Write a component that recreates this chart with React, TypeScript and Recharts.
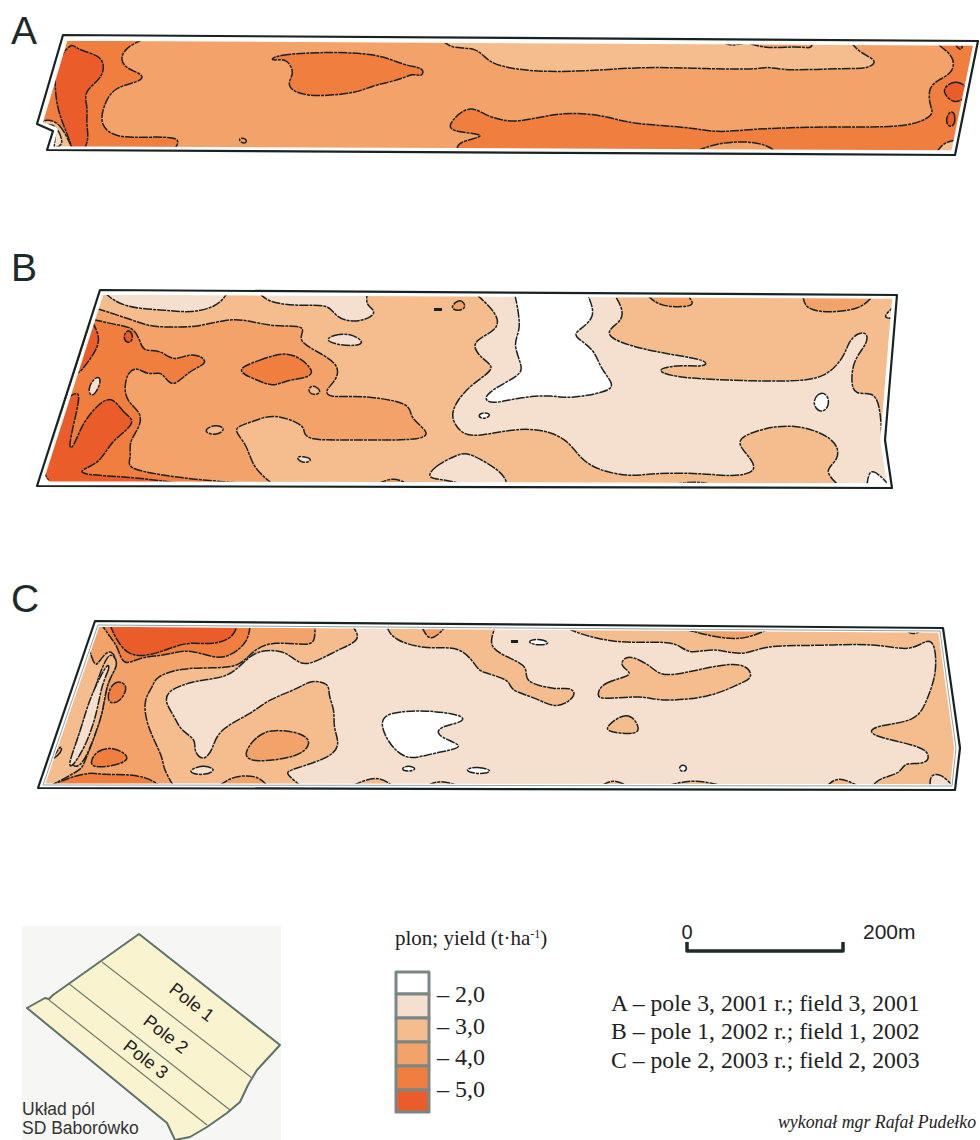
import React from 'react';
import { ScatterChart, Scatter, XAxis, YAxis } from 'recharts';

type Pt = [number, number];

// yield classes, lowest to highest
const Y1 = '#ffffff';
const Y2 = '#f5dfcf';
const Y3 = '#f5bd8e';
const Y4 = '#f3a26a';
const Y5 = '#ef7e3f';
const Y6 = '#ea5c2a';

// ---- map A (field 3, 2001) ----
const aOutline: Pt[] = [[63, 35], [978, 41], [955, 155], [47, 150], [53, 131], [37, 124]];
const aInner: Pt[] = [[66, 39], [975, 44], [953, 152], [51, 148], [56, 129], [41, 123]];
const aLeft5: Pt[] = [[143, 41], [125, 48], [120, 60], [127, 69], [145, 75], [140, 82], [113, 87], [103, 107], [100, 125], [115, 138], [150, 137], [182, 137], [175, 147], [51, 148], [56, 129], [41, 123], [66, 39]];
const aLeft6: Pt[] = [[72, 42], [77, 50], [100, 55], [105, 67], [100, 80], [83, 92], [88, 107], [86, 123], [89, 137], [85, 148], [72, 148], [67, 133], [56, 107], [57, 77], [63, 57]];
const aCorner3: Pt[] = [[45, 119], [60, 122], [72, 147], [52, 148], [56, 129], [42, 123]];
const aCorner2: Pt[] = [[47, 123], [56, 124], [65, 145], [54, 147], [58, 129]];
const aMid5: Pt[] = [[270, 60], [277, 55], [317, 52], [377, 53], [403, 65], [418, 67], [424, 70], [422, 77], [413, 73], [400, 80], [370, 86], [358, 93], [313, 97], [293, 92], [287, 83], [295, 73], [287, 59], [277, 60]];
const aSpeck: Pt[] = [[238, 138], [246, 138], [247, 143], [241, 143]];
const aLow5: Pt[] = [[467, 105], [483, 113], [490, 117], [513, 123], [540, 117], [570, 112], [607, 116], [630, 124], [690, 127], [717, 133], [750, 129], [810, 127], [857, 127], [910, 127], [935, 115], [930, 107], [928, 88], [938, 80], [953, 73], [955, 57], [937, 45], [975, 44], [953, 152], [457, 150], [458, 142], [482, 137], [480, 134], [457, 132], [445, 127]];
const aTop3: Pt[] = [[443, 42], [453, 49], [477, 47], [488, 62], [507, 68], [540, 72], [590, 71], [640, 67], [690, 68], [757, 70], [767, 66], [783, 71], [850, 68], [867, 69], [879, 61], [860, 53], [852, 45]];
const aTop4: Pt[] = [[723, 43], [730, 46], [747, 43], [767, 49], [797, 46], [812, 49], [812, 43]];
const aRound6: Pt[] = [[943, 88], [955, 80], [968, 86], [965, 100], [953, 103], [945, 95]];
const aOval6: Pt[] = [[952, 110], [956, 117], [953, 128], [946, 125], [947, 115]];
const aTip6: Pt[] = [[955, 45], [963, 45], [961, 52]];
const aArc4: Pt[] = [[697, 152], [717, 143], [747, 141], [767, 145], [775, 152]];
const aFoot4: Pt[] = [[937, 152], [943, 143], [955, 140], [953, 152]];

// ---- map B (field 1, 2002) ----
const bOutline: Pt[] = [[100, 290], [897, 295], [885, 440], [892, 488], [37, 486]];
const bInner: Pt[] = [[102, 293], [894, 297], [882, 440], [889, 485], [41, 483]];
const bTopL2: Pt[] = [[105, 294], [123, 308], [167, 310], [190, 313], [217, 307], [227, 294]];
const bTopM2: Pt[] = [[260, 295], [270, 303], [300, 306], [330, 304], [335, 317], [353, 323], [373, 317], [375, 310], [366, 305], [367, 296]];
const bOval2: Pt[] = [[325, 340], [333, 335], [350, 333], [365, 342], [357, 346], [337, 345]];
const bSpot4: Pt[] = [[450, 308], [458, 299], [465, 303], [465, 309], [457, 311]];
const bDark: Pt[] = [[434, 308], [442, 308], [442, 311], [434, 311]];
const bMain4: Pt[] = [[95, 308], [133, 320], [150, 327], [177, 327], [197, 327], [227, 319], [247, 320], [273, 327], [308, 325], [298, 338], [307, 347], [340, 363], [337, 380], [325, 390], [328, 398], [360, 395], [413, 403], [408, 417], [430, 432], [423, 440], [377, 440], [340, 440], [310, 440], [303, 433], [305, 425], [273, 413], [253, 422], [230, 428], [247, 443], [252, 467], [272, 483], [41, 483]];
const bLeft5: Pt[] = [[95, 320], [117, 325], [133, 327], [140, 340], [143, 352], [160, 349], [173, 362], [190, 353], [203, 357], [207, 364], [190, 370], [173, 388], [165, 377], [160, 372], [147, 375], [137, 367], [128, 372], [124, 387], [127, 402], [142, 413], [140, 427], [128, 443], [132, 457], [125, 468], [160, 475], [200, 480], [247, 483], [41, 483], [88, 327]];
const bLow6: Pt[] = [[110, 392], [123, 413], [135, 420], [127, 430], [110, 443], [100, 463], [80, 470], [82, 475], [133, 477], [180, 483], [50, 483], [44, 473], [68, 397], [80, 390], [78, 407], [68, 447], [72, 450], [80, 430], [87, 417]];
const bCornerWhite: Pt[] = [[41, 483], [44, 473], [46, 478], [51, 483]];
const bUp6: Pt[] = [[92, 322], [100, 337], [97, 350], [80, 373], [77, 373]];
const bSpot6: Pt[] = [[123, 336], [128, 329], [133, 334], [132, 342], [126, 343]];
const bSliver2: Pt[] = [[88, 387], [97, 375], [102, 380], [95, 395], [90, 396]];
const bLens3: Pt[] = [[307, 390], [313, 384], [323, 392], [313, 396]];
const bCentre5: Pt[] = [[233, 370], [260, 360], [283, 352], [300, 357], [315, 372], [307, 378], [287, 380], [273, 387], [257, 380]];
const bDrop3: Pt[] = [[202, 432], [213, 424], [227, 428], [217, 436]];
const bFleck2: Pt[] = [[295, 457], [303, 456], [314, 460], [303, 464]];
const bFoot4: Pt[] = [[378, 484], [393, 477], [408, 484]];
const bRight2: Pt[] = [[477, 296], [497, 313], [500, 330], [468, 342], [483, 360], [497, 368], [473, 383], [457, 400], [450, 417], [460, 432], [473, 438], [520, 427], [553, 432], [570, 443], [580, 458], [597, 470], [630, 477], [653, 473], [700, 473], [733, 477], [758, 472], [750, 457], [735, 442], [750, 432], [792, 422], [837, 438], [840, 460], [823, 470], [838, 485], [889, 485], [882, 440], [880, 403], [872, 392], [855, 395], [851, 383], [853, 360], [868, 343], [867, 332], [857, 333], [848, 343], [845, 355], [827, 378], [790, 382], [723, 380], [683, 378], [660, 373], [660, 368], [680, 365], [707, 367], [707, 360], [673, 355], [633, 347], [607, 337], [610, 328], [623, 320], [622, 307], [615, 296]];
const bCentre1: Pt[] = [[515, 297], [522, 330], [512, 343], [523, 367], [520, 375], [497, 387], [483, 397], [490, 405], [520, 397], [553, 395], [568, 399], [607, 392], [615, 385], [600, 368], [595, 350], [575, 337], [575, 332], [597, 318], [588, 297]];
const bSmall1: Pt[] = [[477, 415], [485, 412], [492, 415], [483, 420]];
const bOval1: Pt[] = [[812, 405], [817, 393], [827, 393], [830, 405], [822, 414]];
const bEdge2: Pt[] = [[882, 318], [892, 307], [890, 318]];
const bCorner1: Pt[] = [[867, 485], [870, 465], [889, 485]];
const bTop4A: Pt[] = [[648, 296], [660, 307], [692, 307], [693, 302], [688, 296]];
const bTop4B: Pt[] = [[803, 297], [805, 308], [823, 313], [860, 310], [872, 297]];
const bLow2: Pt[] = [[427, 478], [433, 467], [460, 453], [470, 453], [503, 472], [507, 484], [463, 484], [440, 479]];
const bFoot4B: Pt[] = [[673, 484], [695, 481], [712, 484]];

// ---- map C (field 2, 2003) ----
const cOutline: Pt[] = [[95, 621], [943, 628], [960, 748], [955, 790], [38, 788]];
const cInner: Pt[] = [[98, 625], [940, 631], [956, 748], [952, 786], [43, 785]];
const cLeft3: Pt[] = [[98, 625], [353, 627], [362, 640], [337, 650], [307, 667], [295, 660], [283, 650], [257, 650], [243, 663], [227, 678], [197, 680], [167, 690], [165, 703], [175, 717], [180, 730], [197, 740], [193, 750], [203, 762], [213, 750], [217, 730], [253, 713], [267, 700], [300, 688], [310, 680], [330, 683], [328, 695], [335, 710], [333, 727], [340, 743], [333, 757], [290, 770], [285, 773], [300, 785], [43, 785]];
const cTopArm3: Pt[] = [[387, 627], [393, 640], [427, 650], [460, 645], [477, 667], [480, 672], [512, 680], [508, 690], [537, 698], [557, 710], [578, 695], [570, 687], [557, 690], [522, 682], [530, 667], [507, 657], [488, 647], [495, 627]];
const cEast3: Pt[] = [[568, 628], [577, 633], [613, 643], [660, 642], [677, 643], [690, 655], [713, 647], [743, 657], [763, 645], [813, 646], [877, 643], [910, 652], [927, 639], [935, 643], [937, 673], [927, 700], [917, 722], [875, 725], [865, 735], [917, 745], [930, 753], [927, 765], [903, 762], [902, 773], [880, 778], [872, 786], [952, 786], [956, 748], [940, 631]];
const cEastNotch2: Pt[] = [[930, 786], [930, 775], [940, 773], [952, 785]];
const cTop4: Pt[] = [[685, 630], [737, 643], [767, 631]];
const cTip4: Pt[] = [[907, 631], [912, 635], [922, 632]];
const cMidArm3: Pt[] = [[597, 695], [602, 682], [637, 675], [620, 667], [623, 658], [633, 656], [652, 667], [657, 673], [673, 677], [743, 658], [755, 678], [740, 683], [713, 697], [660, 702], [643, 695], [600, 700]];
const cIsle3: Pt[] = [[605, 727], [628, 710], [640, 727], [637, 735], [608, 732]];
const cFoot3A: Pt[] = [[353, 785], [377, 775], [392, 785]];
const cFoot3B: Pt[] = [[428, 785], [440, 780], [458, 785]];
const cFoot3C: Pt[] = [[602, 786], [613, 779], [627, 786]];
const cFoot3D: Pt[] = [[668, 786], [693, 779], [723, 786]];
const cFoot3E: Pt[] = [[827, 786], [838, 776], [858, 786]];
const cLens2: Pt[] = [[185, 772], [203, 764], [218, 770], [203, 776]];
const cWest4: Pt[] = [[98, 625], [315, 627], [315, 640], [310, 646], [273, 641], [253, 650], [240, 667], [213, 668], [180, 668], [155, 677], [153, 687], [143, 700], [147, 727], [163, 757], [163, 768], [173, 785], [52, 785], [80, 770], [83, 767], [98, 727], [103, 710], [107, 683], [115, 670], [117, 660], [110, 648], [100, 660], [95, 668], [90, 650]];
const cHalo3: Pt[] = [[110, 650], [118, 662], [115, 670], [107, 683], [103, 710], [98, 727], [83, 767], [70, 768], [75, 745], [88, 710], [100, 672]];
const cSliver2: Pt[] = [[108, 663], [110, 668], [102, 683], [97, 713], [87, 743], [73, 767], [67, 767], [80, 733], [88, 703], [100, 677]];
const cTop5: Pt[] = [[250, 627], [248, 642], [230, 657], [213, 658], [192, 650], [177, 652], [160, 656], [140, 657], [123, 667], [118, 647], [110, 637], [102, 627]];
const cTop6: Pt[] = [[110, 627], [115, 637], [128, 657], [153, 655], [173, 647], [190, 642], [213, 645], [233, 638], [237, 627]];
const cBlob5: Pt[] = [[90, 762], [97, 750], [113, 747], [128, 755], [127, 762], [107, 767], [93, 767]];
const cUpper5: Pt[] = [[107, 697], [112, 683], [122, 681], [128, 688], [120, 702], [110, 704]];
const cFloor5: Pt[] = [[48, 785], [52, 783], [68, 778], [90, 772], [103, 775], [123, 774], [147, 777], [159, 785]];
const cCentre4: Pt[] = [[242, 755], [257, 735], [273, 729], [303, 733], [312, 743], [300, 757], [253, 763]];
const cFoot4: Pt[] = [[220, 785], [233, 776], [257, 775], [267, 785]];
const cEdge4: Pt[] = [[62, 743], [62, 753], [53, 760]];
const cNotch4: Pt[] = [[422, 627], [430, 643], [445, 628]];
const cWhite1: Pt[] = [[380, 723], [387, 712], [427, 710], [463, 715], [465, 722], [437, 727], [437, 737], [470, 747], [433, 753], [410, 760], [397, 752], [387, 740]];
const cWhite2: Pt[] = [[400, 769], [408, 765], [418, 769], [408, 772]];
const cWhite3: Pt[] = [[462, 770], [477, 766], [495, 771], [480, 775]];
const cWhite4: Pt[] = [[525, 642], [538, 638], [552, 643], [540, 646]];
const cWhite5: Pt[] = [[678, 768], [683, 764], [688, 768], [683, 773]];
const cDark: Pt[] = [[511, 640], [518, 640], [518, 643], [511, 643]];

// ---- inset: layout of the fields ----
const insetBack: Pt[] = [[22, 926], [281, 926], [281, 1140], [22, 1140]];
const insetFarm: Pt[] = [[139, 934], [280, 1045], [257, 1070], [248, 1085], [240, 1102], [227, 1113], [207, 1127], [190, 1137], [175, 1140], [167, 1123], [27, 1008], [45, 998], [49, 999], [53, 995]];
const insetLine1: Pt[] = [[102, 962], [252, 1078]];
const insetLine2: Pt[] = [[68, 983], [230, 1110]];
const insetLine3: Pt[] = [[49, 1000], [207, 1125]];

// ---- legend ----
const legendColours = [Y1, Y2, Y3, Y4, Y5, Y6];
const legendCells: Pt[][] = [
  [[396, 972], [429, 972], [429, 994], [396, 994]],
  [[396, 994], [429, 994], [429, 1018], [396, 1018]],
  [[396, 1018], [429, 1018], [429, 1042], [396, 1042]],
  [[396, 1042], [429, 1042], [429, 1066], [396, 1066]],
  [[396, 1066], [429, 1066], [429, 1090], [396, 1090]],
  [[396, 1090], [429, 1090], [429, 1112], [396, 1112]],
];
const legendTicks = ['– 2,0', '– 3,0', '– 4,0', '– 5,0'];
const legendTickY = [1002, 1034, 1065, 1097];

const scaleBar: Pt[] = [[687, 942], [687, 951], [843, 951], [843, 942]];

const mapLetters = ['A', 'B', 'C'];
const mapLetterY = [44, 281, 612];
const notes = ['A – pole 3, 2001 r.; field 3, 2001', 'B – pole 1, 2002 r.; field 1, 2002', 'C – pole 2, 2003 r.; field 2, 2003'];
const noteY = [1011, 1039, 1068];

const INK = '#182222';

// vertices lying on the field border stay put (tripled, so the spline passes through them)
function pinToBorder(pts: Pt[], border: Pt[]): Pt[] {
  const out: Pt[] = [];
  pts.forEach(([x, y]) => {
    let best: Pt = [x, y];
    let bestD = 2.5;
    border.forEach(([ax, ay], i) => {
      const [bx, by] = border[(i + 1) % border.length];
      const t = Math.max(0, Math.min(1, ((x - ax) * (bx - ax) + (y - ay) * (by - ay)) / ((bx - ax) ** 2 + (by - ay) ** 2)));
      const px = ax + t * (bx - ax);
      const py = ay + t * (by - ay);
      const d = Math.hypot(x - px, y - py);
      if (d < bestD) { bestD = d; best = [px, py]; }
    });
    if (best[0] === x && best[1] === y && bestD === 2.5) out.push([x, y]);
    else out.push(best, best, best);
  });
  return out;
}

// one polygon = one scatter series whose joining line is filled
function poly(key: string, pts: Pt[], fill: string, opts: any = {}) {
  const { stroke = INK, width = 1.5, dash = '9 1 3 1', joint = 'linearClosed' } = opts;
  return (
    <Scatter
      key={key}
      data={pts.map(([x, y]) => ({ x, y }))}
      fill={fill}
      line={{ fill, stroke, strokeWidth: width, strokeDasharray: dash, strokeLinejoin: 'round' }}
      lineJointType={joint}
      shape={() => null}
      isAnimationActive={false}
    />
  );
}
const SOLID = 'none';
const edgeOf = (border: Pt[]) => (key: string, pts: Pt[], fill: string) =>
  poly(key, pinToBorder(pts, border), fill, { joint: 'basisClosed' });
const edgeA = edgeOf(aInner);
const edgeB = edgeOf(bInner);
const edgeC = edgeOf(cInner);
const blob = (key: string, pts: Pt[], fill: string) => poly(key, pts, fill, { joint: 'basisClosed' });
const plain = (key: string, pts: Pt[], fill: string) => poly(key, pts, fill, { stroke: 'none', dash: SOLID });
const frame = (key: string, outer: Pt[], inner: Pt[], seam = '#ffffff') => [
  poly(key + '-w', inner, 'none', { stroke: '#ffffff', width: 3.5, dash: SOLID }),
  poly(key + '-s', inner, 'none', { stroke: seam, width: 1, dash: SOLID }),
  poly(key + '-o', outer, 'none', { stroke: INK, width: 2.2, dash: SOLID }),
];

const SERIF = '"Liberation Serif", serif';
const SANS = '"Liberation Sans", sans-serif';

export default function App() {
  return (
    <div style={{ position: 'absolute', left: 0, top: 0, width: 980, height: 1140, overflow: 'hidden', background: '#fff' }}>
      <ScatterChart width={980} height={1140} margin={{ top: 0, right: 0, bottom: 0, left: 0 }}>
        <XAxis type="number" dataKey="x" domain={[0, 980]} hide />
        <YAxis type="number" dataKey="y" domain={[0, 1140]} reversed hide />

        {plain('a-base', aInner, Y4)}
        {edgeA('a-top3', aTop3, Y3)}
        {edgeA('a-top4', aTop4, Y4)}
        {edgeA('a-left5', aLeft5, Y5)}
        {edgeA('a-left6', aLeft6, Y6)}
        {edgeA('a-c3', aCorner3, Y3)}
        {edgeA('a-c2', aCorner2, Y2)}
        {blob('a-mid5', aMid5, Y5)}
        {blob('a-speck', aSpeck, Y4)}
        {edgeA('a-low5', aLow5, Y5)}
        {edgeA('a-arc', aArc4, Y4)}
        {edgeA('a-foot', aFoot4, Y3)}
        {blob('a-round', aRound6, Y6)}
        {blob('a-oval', aOval6, Y6)}
        {edgeA('a-tip', aTip6, Y6)}
        {frame('a-frame', aOutline, aInner)}

        {plain('b-base', bInner, Y3)}
        {edgeB('b-topl', bTopL2, Y2)}
        {edgeB('b-topm', bTopM2, Y2)}
        {blob('b-oval2', bOval2, Y2)}
        {blob('b-spot4', bSpot4, Y4)}
        {plain('b-dark', bDark, INK)}
        {edgeB('b-main', bMain4, Y4)}
        {edgeB('b-left5', bLeft5, Y5)}
        {edgeB('b-low6', bLow6, Y6)}
        {plain('b-cw', bCornerWhite, Y1)}
        {edgeB('b-up6', bUp6, Y6)}
        {blob('b-spot6', bSpot6, Y6)}
        {blob('b-sliver', bSliver2, Y2)}
        {blob('b-lens', bLens3, Y3)}
        {blob('b-centre5', bCentre5, Y5)}
        {blob('b-drop', bDrop3, Y3)}
        {blob('b-fleck', bFleck2, Y2)}
        {edgeB('b-foot', bFoot4, Y4)}
        {edgeB('b-right', bRight2, Y2)}
        {edgeB('b-centre1', bCentre1, Y1)}
        {blob('b-small1', bSmall1, Y1)}
        {blob('b-oval1', bOval1, Y1)}
        {edgeB('b-edge2', bEdge2, Y2)}
        {edgeB('b-corner', bCorner1, Y1)}
        {edgeB('b-t4a', bTop4A, Y4)}
        {edgeB('b-t4b', bTop4B, Y4)}
        {edgeB('b-low2', bLow2, Y2)}
        {edgeB('b-foot2', bFoot4B, Y4)}
        {frame('b-frame', bOutline, bInner)}

        {plain('c-base', cInner, Y2)}
        {edgeC('c-left3', cLeft3, Y3)}
        {edgeC('c-arm', cTopArm3, Y3)}
        {edgeC('c-east', cEast3, Y3)}
        {edgeC('c-notch2', cEastNotch2, Y2)}
        {edgeC('c-top4', cTop4, Y4)}
        {edgeC('c-tip4', cTip4, Y4)}
        {blob('c-mid', cMidArm3, Y3)}
        {blob('c-isle', cIsle3, Y3)}
        {edgeC('c-fa', cFoot3A, Y3)}
        {edgeC('c-fb', cFoot3B, Y3)}
        {edgeC('c-fc', cFoot3C, Y3)}
        {edgeC('c-fd', cFoot3D, Y3)}
        {edgeC('c-fe', cFoot3E, Y3)}
        {blob('c-lens', cLens2, Y2)}
        {edgeC('c-west', cWest4, Y4)}
        {blob('c-halo', cHalo3, Y3)}
        {blob('c-sliver', cSliver2, Y2)}
        {edgeC('c-top5', cTop5, Y5)}
        {edgeC('c-top6', cTop6, Y6)}
        {blob('c-blob5', cBlob5, Y5)}
        {blob('c-up5', cUpper5, Y5)}
        {edgeC('c-floor', cFloor5, Y5)}
        {blob('c-centre4', cCentre4, Y4)}
        {edgeC('c-foot4', cFoot4, Y4)}
        {edgeC('c-edge4', cEdge4, Y4)}
        {edgeC('c-n4', cNotch4, Y4)}
        {blob('c-w1', cWhite1, Y1)}
        {blob('c-w2', cWhite2, Y1)}
        {blob('c-w3', cWhite3, Y1)}
        {blob('c-w4', cWhite4, Y1)}
        {blob('c-w5', cWhite5, Y1)}
        {plain('c-dark', cDark, INK)}
        {frame('c-frame', cOutline, cInner, '#8ea3a6')}

        {plain('inset-back', insetBack, '#f6f6f4')}
        {poly('inset-farm', insetFarm, '#faf3cf', { stroke: '#5d7268', width: 2, dash: SOLID })}
        {poly('inset-l1', insetLine1, 'none', { stroke: '#6f7d68', width: 1.2, dash: SOLID, joint: 'linear' })}
        {poly('inset-l2', insetLine2, 'none', { stroke: '#6f7d68', width: 1.2, dash: SOLID, joint: 'linear' })}
        {poly('inset-l3', insetLine3, 'none', { stroke: '#6f7d68', width: 1.2, dash: SOLID, joint: 'linear' })}

        {legendCells.map((cell, i) => poly('legend-' + i, cell, legendColours[i], { stroke: '#7b8786', width: 3, dash: SOLID }))}
        {poly('scale', scaleBar, 'none', { stroke: '#1d2a2a', width: 3.5, dash: SOLID, joint: 'linear' })}
      </ScatterChart>

      {/* labels sit above the series layer */}
      <svg width={980} height={1140} style={{ position: 'absolute', left: 0, top: 0, pointerEvents: 'none' }}>
        {mapLetters.map((t, i) => (
          <text key={t} x={11} y={mapLetterY[i]} fontFamily={SANS} fontSize={39} fill="#1d2a2a">{t}</text>
        ))}

        <text x={188} y={1007} transform="rotate(38 188 1007)" textAnchor="middle" fontFamily={SANS} fontSize={18} fill="#222">Pole 1</text>
        <text x={162} y={1039} transform="rotate(38 162 1039)" textAnchor="middle" fontFamily={SANS} fontSize={18} fill="#222">Pole 2</text>
        <text x={142} y={1064} transform="rotate(38 142 1064)" textAnchor="middle" fontFamily={SANS} fontSize={18} fill="#222">Pole 3</text>
        <text x={22} y={1115} fontFamily={SANS} fontSize={17.5} fill="#333">Układ pól</text>
        <text x={22} y={1134} fontFamily={SANS} fontSize={17.5} fill="#333">SD Baborówko</text>

        <text x={395} y={945} fontFamily={SERIF} fontSize={21} fill="#222">
          plon; yield (t·ha<tspan fontSize={12} dy={-7}>-1</tspan><tspan dy={7}>)</tspan>
        </text>
        {legendTicks.map((t, i) => (
          <text key={t} x={437} y={legendTickY[i]} fontFamily={SERIF} fontSize={24} fill="#222">{t}</text>
        ))}

        <text x={687} y={939} textAnchor="middle" fontFamily={SANS} fontSize={20} fill="#222">0</text>
        <text x={863} y={939} fontFamily={SANS} fontSize={21} fill="#222">200m</text>

        {notes.map((t, i) => (
          <text key={t} x={611} y={noteY[i]} fontFamily={SERIF} fontSize={23.7} fill="#222">{t}</text>
        ))}
        <text x={778} y={1128} fontFamily={SERIF} fontStyle="italic" fontSize={17.8} fill="#222">wykonał mgr Rafał Pudełko</text>
      </svg>
    </div>
  );
}
